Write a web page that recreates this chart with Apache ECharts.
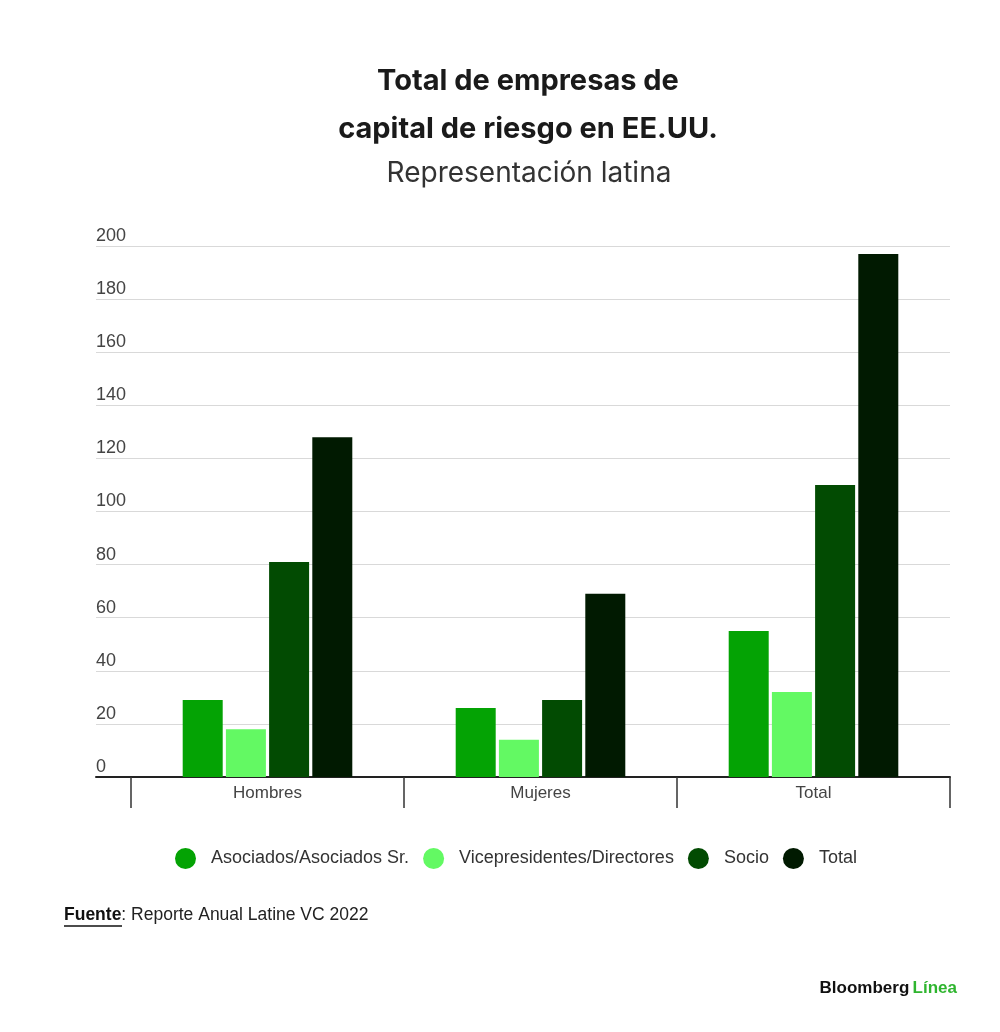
<!DOCTYPE html>
<html>
<head>
<meta charset="utf-8">
<script src="https://cdn.jsdelivr.net/npm/echarts@6/dist/echarts.min.js"></script>
<style>html,body{margin:0;padding:0;background:#fff}#c{width:1000px;height:1032px}</style>
</head>
<body>
<div id="c"></div>
<script>
var categories = ['Hombres', 'Mujeres', 'Total'];
var seriesNames = ['Asociados/Asociados Sr.', 'Vicepresidentes/Directores', 'Socio', 'Total'];
var asociados = [29, 26, 55];
var vicepresidentes = [18, 14, 32];
var socio = [81, 29, 110];
var total = [128, 69, 197];
var colors = ['#04a304', '#63f963', '#024b02', '#011a01'];

var chart = echarts.init(document.getElementById('c'), null, {renderer: 'canvas'});
var font = 'Liberation Sans, Arial, sans-serif';
var values = [asociados, vicepresidentes, socio, total];

chart.setOption({
  backgroundColor: '#fff',
  animation: false,
  color: colors,
  title: [
    {text: 'Total de empresas de\ncapital de riesgo en EE.UU.', left: 523, textAlign: 'center', top: 52,
     textStyle: {fontFamily: 'Inter, sans-serif', fontWeight: 'bold', fontSize: 29, lineHeight: 48, color: '#1a1a1a'}},
    {text: 'Representación latina', left: 524, textAlign: 'center', top: 155,
     textStyle: {fontFamily: 'Inter, sans-serif', fontWeight: 'normal', fontSize: 28, color: '#333'}}
  ],
  legend: {
    top: 843, left: 170,
    icon: 'circle', itemWidth: 21, itemHeight: 21, itemGap: 14,
    textStyle: {fontFamily: font, fontSize: 18, color: '#333', padding: [0, 0, 0, 10]},
    data: seriesNames
  },
  grid: [
    {left: 96, right: 50, top: 246, bottom: 255},
    {left: 131, right: 50, top: 246, bottom: 255}
  ],
  xAxis: [
    {gridIndex: 0, type: 'value', min: 0, max: 1, axisLine: {show: true, lineStyle: {color: '#222', width: 2}},
     axisTick: {show: false}, axisLabel: {show: false}, splitLine: {show: false}},
    {gridIndex: 1, type: 'category', data: categories,
     axisLine: {show: false},
     axisTick: {show: true, length: 31, lineStyle: {color: '#333', width: 1.5}},
     axisLabel: {margin: 8, fontFamily: font, fontSize: 17, color: '#444'}}
  ],
  yAxis: [
    {gridIndex: 0, type: 'value', min: 0, max: 200, interval: 20,
     axisLine: {show: false}, axisTick: {show: false},
     axisLabel: {inside: true, margin: 0, verticalAlign: 'bottom', padding: [0, 0, 1, 0], fontFamily: font, fontSize: 18, color: '#444'},
     splitLine: {lineStyle: {color: '#d9d9d9', width: 1}}},
    {gridIndex: 1, type: 'value', min: 0, max: 200, interval: 20, show: false, splitLine: {show: false}}
  ],
  series: seriesNames.map(function (n, i) {
    return {name: n, type: 'bar', xAxisIndex: 1, yAxisIndex: 1, data: values[i], barWidth: 40, barGap: '8%',
            itemStyle: {color: colors[i]}};
  }),
  graphic: [
    {type: 'text', left: 64, top: 906, style: {
      text: '{b|Fuente}: Reporte Anual Latine VC 2022',
      rich: {b: {fontWeight: 'bold', fontFamily: font, fontSize: 17.5, fill: '#111'}},
      fontFamily: font, fontSize: 17.5, fill: '#222'}},
    {type: 'line', shape: {x1: 64, y1: 926, x2: 122, y2: 926}, style: {stroke: '#111', lineWidth: 1.5}},
    {type: 'text', right: 43, top: 980, style: {
      text: '{a|Bloomberg} {g|Línea}',
      rich: {a: {fontWeight: 'bold', fontFamily: font, fontSize: 17, fill: '#111'},
             g: {fontWeight: 'bold', fontFamily: font, fontSize: 17, fill: '#2fb52f'}}}}
  ]
});
</script>
</body>
</html>
